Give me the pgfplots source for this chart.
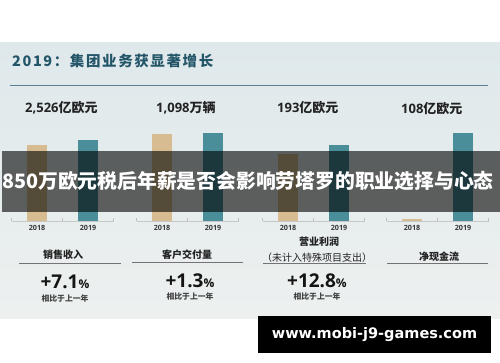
\documentclass[border=0pt]{standalone}
\usepackage{pgfplots}
\pgfplotsset{compat=1.18}
\usepackage{fontspec}
\setmainfont{Open Sans}
\newfontfamily\cjk{Noto Sans CJK SC}
\newfontfamily\cjktitle[LetterSpace=11]{Noto Sans CJK SC}
\newfontfamily\wm{DejaVu Sans}
\definecolor{bgA}{HTML}{DFE8EB}
\definecolor{bgB}{HTML}{EDF0EF}
\definecolor{tanbar}{HTML}{D6BC90}
\definecolor{tealbar}{HTML}{4A8E9A}
\definecolor{titlec}{HTML}{24566A}
\definecolor{txt}{HTML}{222222}
\pgfplotsset{
  mini/.style={
    scale only axis, width=102pt, height=90pt, anchor=south west,
    ymin=0, xmin=-0.5, xmax=1.5,
    axis x line*=bottom, axis y line=none,
    ybar, bar width=20pt,
    xtick={0,1}, xticklabels={2018,2019},
    major tick length=0pt,
    minor xtick={-0.5,0.5,1.5}, minor tick length=3pt, tick align=inside,
    tick style={draw=black!25},
    axis line style={draw=black!22, -},
    xticklabel style={font=\fontsize{7.2}{8}\selectfont\bfseries, text=black!78, yshift=-1pt},
    clip=false,
  },
  b18/.style={fill=tanbar, draw=none, bar shift=0pt},
  b19/.style={fill=tealbar, draw=none, bar shift=0pt},
}
\begin{document}
\begin{tikzpicture}
\path[use as bounding box] (0pt,0pt) rectangle (500pt,362pt);
\fill[white] (0pt,0pt) rectangle (500pt,362pt);
\shade[top color=bgA, bottom color=bgB] (0pt,44pt) rectangle (500pt,319pt);
% title
\node[anchor=west, inner sep=0, text=titlec] at (12pt,301pt) {\cjktitle\bfseries\fontsize{14.5}{16}\selectfont 2019：集团业务获显著增长};
\draw[color=titlec!75, line width=0.8pt] (10pt,277pt) -- (488pt,277pt);
% headline values
\node[anchor=west, inner sep=0, text=txt] at (25pt,254pt) {\fontsize{13}{14}\selectfont\bfseries 2,526{\cjk 亿欧元}};
\node[anchor=west, inner sep=0, text=txt] at (156pt,254pt) {\fontsize{13}{14}\selectfont\bfseries 1,098{\cjk 万辆}};
\node[anchor=west, inner sep=0, text=txt] at (277pt,254pt) {\fontsize{13}{14}\selectfont\bfseries 193{\cjk 亿欧元}};
\node[anchor=west, inner sep=0, text=txt] at (401pt,253pt) {\fontsize{13}{14}\selectfont\bfseries 108{\cjk 亿欧元}};
% mini bar charts
\begin{axis}[mini, at={(11.5pt,141pt)}, ymax=280.7]
\addplot[b18] coordinates {(0,235.8)};
\addplot[b19] coordinates {(1,252.6)};
\end{axis}
\begin{axis}[mini, at={(136.5pt,141pt)}, ymax=1123]
\addplot[b18] coordinates {(0,1083)};
\addplot[b19] coordinates {(1,1098)};
\end{axis}
\begin{axis}[mini, at={(262.5pt,141pt)}, ymax=228.6]
\addplot[b18] coordinates {(0,171)};
\addplot[b19] coordinates {(1,193)};
\end{axis}
\begin{axis}[mini, at={(386.5pt,141pt)}, ymax=110.5]
\addplot[b18] coordinates {(0,2.8)};
\addplot[b19] coordinates {(1,108)};
\end{axis}
% category labels
\node[text=txt, inner sep=0] at (63pt,107pt) {\cjk\bfseries\fontsize{10}{11}\selectfont 销售收入};
\node[text=txt, inner sep=0] at (187pt,107pt) {\cjk\bfseries\fontsize{10}{11}\selectfont 客户交付量};
\node[text=txt, inner sep=0] at (319pt,120pt) {\cjk\bfseries\fontsize{10}{11}\selectfont 营业利润};
\node[text=txt, inner sep=0] at (317pt,104pt) {\cjk\fontsize{10}{11}\selectfont （未计入特殊项目支出）};
\node[text=txt, inner sep=0] at (439pt,105pt) {\cjk\bfseries\fontsize{10}{11}\selectfont 净现金流};
\draw[black!55, line width=0.7pt] (19pt,99pt) -- (121pt,99pt);
\draw[black!55, line width=0.7pt] (132pt,100pt) -- (243pt,100pt);
\draw[black!55, line width=0.7pt] (263pt,99pt) -- (366pt,99pt);
\draw[black!55, line width=0.7pt] (387pt,99pt) -- (488pt,99pt);
% percentages
\node[anchor=base, inner sep=0, text=black!92] at (65pt,74pt) {\bfseries\fontsize{19}{20}\selectfont +7.1{\fontsize{12}{12}\selectfont\%}};
\node[anchor=base, inner sep=0, text=black!92] at (190pt,75pt) {\bfseries\fontsize{19}{20}\selectfont +1.3{\fontsize{12}{12}\selectfont\%}};
\node[anchor=base, inner sep=0, text=black!92] at (317pt,75pt) {\bfseries\fontsize{19}{20}\selectfont +12.8{\fontsize{12}{12}\selectfont\%}};
\node[inner sep=0, text=black!75] at (65pt,63pt) {\cjk\bfseries\fontsize{7.8}{8}\selectfont 相比于上一年};
\node[inner sep=0, text=black!75] at (190pt,65pt) {\cjk\bfseries\fontsize{7.8}{8}\selectfont 相比于上一年};
\node[inner sep=0, text=black!75] at (317pt,65pt) {\cjk\bfseries\fontsize{7.8}{8}\selectfont 相比于上一年};
% overlay banner
\fill[black, opacity=0.6] (2pt,150pt) rectangle (500pt,211pt);
\node[anchor=west, inner sep=0, text=white] at (2pt,181pt) {\cjk\bfseries\fontsize{19.8}{22}\selectfont 850万欧元税后年薪是否会影响劳塔罗的职业选择与心态};
% watermark
\fill[black] (258pt,9pt) rectangle (491pt,46pt);
\node[text=white, inner sep=0] at (374.5pt,27.5pt) {\wm\bfseries\fontsize{14.5}{16}\selectfont www.mobi-j9-games.com};
\end{tikzpicture}
\end{document}
